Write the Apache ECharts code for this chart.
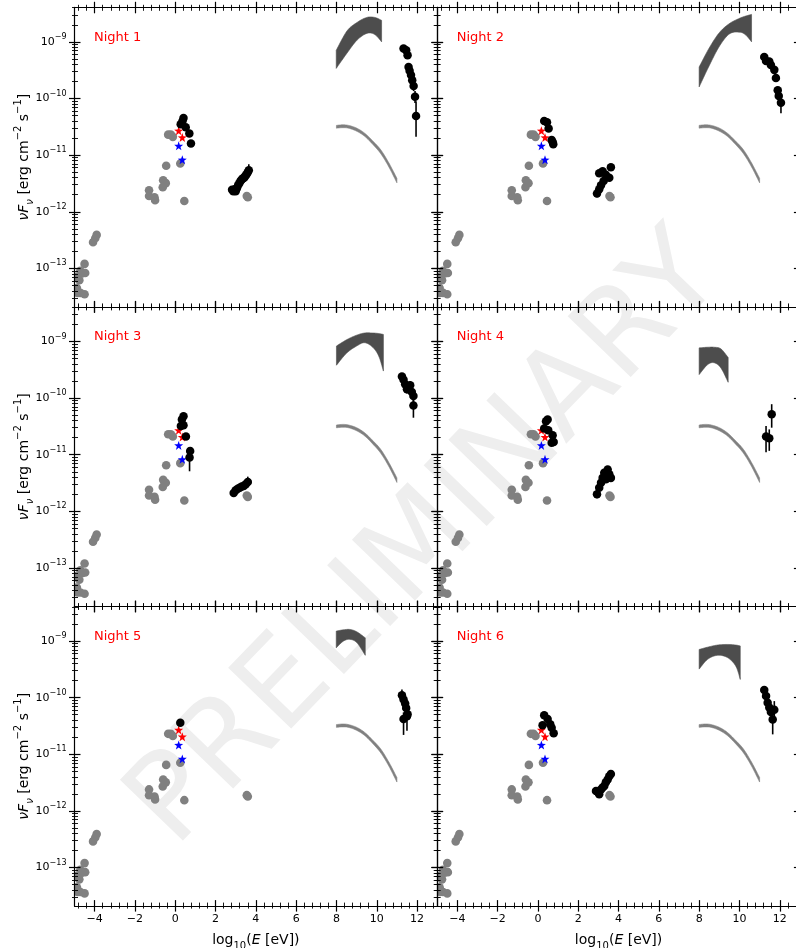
<!DOCTYPE html>
<html><head><meta charset="utf-8">
<script src="https://cdn.jsdelivr.net/npm/echarts@6/dist/echarts.min.js"></script>
<style>html,body{margin:0;padding:0;background:#fff}#c{width:796px;height:948px}</style>
</head><body><div id="c"></div>
<script>
// ---------------- data (x = log10(E/eV), flux in erg cm^-2 s^-1) ----------------
const xMajor = [-4, -2, 0, 2, 4, 6, 8, 10, 12];
const yMajor = [-13, -12, -11, -10, -9];          // exponents of the decade labels
const nightNames = ['Night 1', 'Night 2', 'Night 3', 'Night 4', 'Night 5', 'Night 6'];

// archival (grey) points, identical in every panel
const grayX = [-4.95,-4.88,-4.85,-4.71,-4.5,-4.95,-4.76,-4.71,-4.47,-4.63,-4.5,-4.08,-3.9,-3.97,-1.3,-1.3,-1.03,-1.0,-0.6,-0.47,-0.62,-0.45,-0.35,-0.22,-0.12,0.25,0.45,3.55,3.6];
const grayF = [4.2e-14,4.5e-14,3.7e-14,3.7e-14,3.5e-14,7.1e-14,6.2e-14,9.1e-14,8.3e-14,8.1e-14,1.2e-13,2.9e-13,3.9e-13,3.4e-13,2.4e-12,1.9e-12,1.8e-12,1.6e-12,3.6e-12,3.2e-12,2.7e-12,6.5e-12,2.3e-11,2.3e-11,2.1e-11,7.1e-12,1.55e-12,1.9e-12,1.8e-12];
// stars
const redX = [0.17, 0.35];  const redF = [2.7e-11, 2.05e-11];
const blueX = [0.17, 0.35]; const blueF = [1.46e-11, 8.3e-12];
// grey model band (same in every panel)
const modelX  = [8.0, 8.3, 8.6, 9.0, 9.4, 9.8, 10.2, 10.6, 11.0];
const modelLo = [2.99e-11,3.05e-11,2.99e-11,2.65e-11,2.15e-11,1.55e-11,1.06e-11,6.2e-12,3.24e-12];
const modelHi = [3.35e-11,3.43e-11,3.35e-11,3.0e-11,2.44e-11,1.78e-11,1.24e-11,7.3e-12,3.9e-12];

// Night 1
const n1X  = [0.41,0.36,0.27,0.52,0.70,0.78, 2.82,2.88,2.95,3.00,3.06,3.12,3.18,3.24,3.30,3.36,3.42,3.48,3.54,3.60,3.65, 11.33,11.46,11.53,11.58,11.63,11.70,11.76,11.83,11.90,11.95];
const n1F  = [4.5e-11,4.0e-11,3.5e-11,3.1e-11,2.4e-11,1.6e-11, 2.45e-12,2.3e-12,2.5e-12,2.3e-12,2.6e-12,2.95e-12,3.2e-12,3.5e-12,3.7e-12,3.9e-12,4.0e-12,4.3e-12,4.6e-12,5.0e-12,5.4e-12, 7.6e-10,7.1e-10,5.8e-10,3.6e-10,3.1e-10,2.6e-10,2.1e-10,1.66e-10,1.07e-10,4.9e-11];
const n1Lo = [null,null,null,null,null,null, 2.1e-12,2.0e-12,2.15e-12,2.0e-12,2.3e-12,2.6e-12,2.85e-12,3.1e-12,3.3e-12,3.5e-12,3.6e-12,3.8e-12,4.1e-12,4.4e-12,4.6e-12, 6.9e-10,6.4e-10,5.1e-10,3.1e-10,2.65e-10,2.2e-10,1.75e-10,1.35e-10,8.3e-11,2.1e-11];
const n1Hi = [null,null,null,null,null,null, 2.8e-12,2.6e-12,2.85e-12,2.6e-12,2.9e-12,3.3e-12,3.55e-12,3.9e-12,4.1e-12,4.3e-12,4.45e-12,4.8e-12,5.2e-12,5.7e-12,6.9e-12, 8.4e-10,7.9e-10,6.6e-10,4.2e-10,3.6e-10,3.05e-10,2.5e-10,2.0e-10,1.35e-10,8.9e-11];
const n1BandX  = [7.99,8.52,9.02,9.51,9.90,10.24];
const n1BandLo = [3.4e-10,6.3e-10,1.07e-9,1.41e-9,1.35e-9,1.0e-9];
const n1BandHi = [7.1e-10,1.55e-9,2.2e-9,2.7e-9,2.7e-9,2.4e-9];

// Night 2
const n2X  = [0.31,0.45,0.53,0.68,0.76,0.73, 2.93,3.04,3.13,3.26,3.04,3.21,3.37,3.54,3.62, 11.23,11.32,11.48,11.56,11.73,11.81,11.90,11.95,12.06];
const n2F  = [4.0e-11,3.8e-11,2.95e-11,1.84e-11,1.55e-11,1.7e-11, 2.1e-12,2.5e-12,2.95e-12,3.5e-12,4.8e-12,5.2e-12,4.5e-12,4.0e-12,6.1e-12, 5.4e-10,4.6e-10,4.5e-10,3.9e-10,3.2e-10,2.3e-10,1.4e-10,1.11e-10,8.4e-11];
const n2Lo = [null,null,null,null,null,null, 1.8e-12,2.2e-12,2.6e-12,3.1e-12,4.3e-12,4.6e-12,4.0e-12,3.5e-12,5.4e-12, 4.9e-10,4.2e-10,4.0e-10,3.5e-10,2.8e-10,2.0e-10,1.2e-10,9.2e-11,5.5e-11];
const n2Hi = [null,null,null,null,null,null, 2.4e-12,2.8e-12,3.3e-12,3.9e-12,5.3e-12,5.8e-12,5.0e-12,4.5e-12,6.9e-12, 5.9e-10,5.0e-10,5.0e-10,4.3e-10,3.6e-10,2.6e-10,1.6e-10,1.3e-10,1.12e-10];
const n2BandX  = [8.0,8.5,9.0,9.5,10.0,10.3,10.6];
const n2BandLo = [1.6e-10,3.8e-10,8.3e-10,1.38e-9,1.48e-9,1.33e-9,1.0e-9];
const n2BandHi = [3.6e-10,7.8e-10,1.45e-9,2.1e-9,2.6e-9,2.85e-9,3.05e-9];

// Night 3
const n3X  = [0.41,0.33,0.41,0.28,0.53,0.74,0.71, 2.90,3.00,3.10,3.20,3.30,3.40,3.50,3.60, 11.25,11.33,11.41,11.50,11.66,11.74,11.82,11.82];
const n3F  = [4.8e-11,4.2e-11,3.3e-11,3.2e-11,2.1e-11,1.16e-11,8.9e-12, 2.1e-12,2.35e-12,2.5e-12,2.6e-12,2.75e-12,2.8e-12,3.0e-12,3.3e-12, 2.4e-10,2.1e-10,1.75e-10,1.43e-10,1.68e-10,1.28e-10,1.09e-10,7.4e-11];
const n3Lo = [null,null,null,null,null,null,5.1e-12, 1.85e-12,2.1e-12,2.25e-12,2.35e-12,2.5e-12,2.55e-12,2.7e-12,2.9e-12, 2.15e-10,1.85e-10,1.5e-10,1.2e-10,1.4e-10,1.0e-10,8.5e-11,4.5e-11];
const n3Hi = [null,null,null,null,null,null,1.12e-11, 2.35e-12,2.6e-12,2.75e-12,2.85e-12,3.0e-12,3.05e-12,3.3e-12,4.1e-12, 2.65e-10,2.35e-10,2.0e-10,1.65e-10,2.0e-10,1.55e-10,1.35e-10,9.5e-11];
const n3BandX  = [8.0,8.5,9.0,9.4,9.8,10.1,10.33];
const n3BandLo = [3.8e-10,6.2e-10,8.3e-10,9.5e-10,7.9e-10,5.5e-10,3.0e-10];
const n3BandHi = [8.3e-10,1.07e-9,1.29e-9,1.41e-9,1.41e-9,1.38e-9,1.33e-9];

// Night 4
const n4X  = [0.40,0.48,0.31,0.51,0.73,0.78,0.68, 2.93,3.04,3.13,3.21,3.29,3.46,3.54,3.62,3.37, 11.60,11.32,11.48];
const n4F  = [3.9e-11,4.2e-11,2.9e-11,2.7e-11,2.2e-11,1.67e-11,1.63e-11, 2.0e-12,2.6e-12,3.2e-12,3.9e-12,4.8e-12,5.5e-12,4.5e-12,3.9e-12,3.7e-12, 5.2e-11,2.1e-11,1.95e-11];
const n4Lo = [null,null,null,null,null,null,null, 1.7e-12,2.3e-12,2.8e-12,3.4e-12,4.2e-12,4.9e-12,4.0e-12,3.4e-12,3.2e-12, 3.0e-11,1.1e-11,1.17e-11];
const n4Hi = [null,null,null,null,null,null,null, 2.3e-12,2.9e-12,3.6e-12,4.4e-12,5.4e-12,6.3e-12,5.0e-12,4.5e-12,4.2e-12, 7.8e-11,3.2e-11,2.8e-11];
const n4BandX  = [8.0,8.42,8.75,9.08,9.44];
const n4BandLo = [2.6e-10,3.9e-10,4.2e-10,3.4e-10,1.9e-10];
const n4BandHi = [7.7e-10,7.9e-10,7.9e-10,7.4e-10,5.2e-10];

// Night 5
const n5X  = [0.25, 11.25,11.33,11.41,11.46,11.53,11.33,11.50];
const n5F  = [3.6e-11, 1.1e-10,9.3e-11,7.9e-11,6.6e-11,5.1e-11,4.2e-11,4.7e-11];
const n5Lo = [null, 9.5e-11,8.0e-11,6.7e-11,5.5e-11,4.2e-11,2.2e-11,2.6e-11];
const n5Hi = [null, 1.4e-10,1.08e-10,9.2e-11,7.8e-11,6.1e-11,5.5e-11,6.0e-11];
const n5BandX  = [7.99,8.35,8.68,9.02,9.43];
const n5BandLo = [7.6e-10,1.0e-9,1.07e-9,9.3e-10,5.6e-10];
const n5BandHi = [1.5e-9,1.58e-9,1.6e-9,1.45e-9,1.14e-9];

// Night 6
const n6X  = [0.31,0.48,0.23,0.61,0.68,0.78, 2.88,2.99,3.13,3.21,3.29,3.37,3.46,3.54,3.62,3.04, 11.23,11.32,11.40,11.48,11.56,11.73,11.65];
const n6F  = [4.9e-11,4.2e-11,3.25e-11,3.4e-11,2.95e-11,2.35e-11, 2.25e-12,2.15e-12,2.4e-12,2.6e-12,2.75e-12,3.2e-12,3.6e-12,4.1e-12,4.5e-12,1.97e-12, 1.36e-10,1.07e-10,8.1e-11,6.7e-11,5.6e-11,6.1e-11,4.1e-11];
const n6Lo = [null,null,null,null,null,null, 1.95e-12,1.85e-12,2.1e-12,2.3e-12,2.45e-12,2.85e-12,3.2e-12,3.7e-12,4.0e-12,1.7e-12, 1.2e-10,9.4e-11,7.0e-11,5.8e-11,4.8e-11,4.6e-11,2.25e-11];
const n6Hi = [null,null,null,null,null,null, 2.55e-12,2.45e-12,2.7e-12,2.9e-12,3.05e-12,3.6e-12,4.0e-12,4.6e-12,5.0e-12,2.25e-12, 1.55e-10,1.22e-10,9.3e-11,7.7e-11,6.5e-11,8.7e-11,5.5e-11];
const n6BandX  = [8.0,8.42,8.91,9.41,9.82,10.04];
const n6BandLo = [3.2e-10,4.75e-10,5.6e-10,5.1e-10,3.6e-10,2.1e-10];
const n6BandHi = [7.1e-10,7.8e-10,8.5e-10,8.7e-10,8.5e-10,8.2e-10];

// ---------------- layout / style ----------------
const FONT = 'DejaVu Sans';
const X_MIN = -5, X_MAX = 13;
const LOG_MIN = -13.68, LOG_MAX = -8.39;
const GRID_LEFT = [74.5, 437.2];
const GRID_TOP = [7.3, 306.9, 606.5];
const GRID_W = 362.7, GRID_H = 299.6;

const nights = [
  {x:n1X,f:n1F,lo:n1Lo,hi:n1Hi,bx:n1BandX,blo:n1BandLo,bhi:n1BandHi},
  {x:n2X,f:n2F,lo:n2Lo,hi:n2Hi,bx:n2BandX,blo:n2BandLo,bhi:n2BandHi},
  {x:n3X,f:n3F,lo:n3Lo,hi:n3Hi,bx:n3BandX,blo:n3BandLo,bhi:n3BandHi},
  {x:n4X,f:n4F,lo:n4Lo,hi:n4Hi,bx:n4BandX,blo:n4BandLo,bhi:n4BandHi},
  {x:n5X,f:n5F,lo:n5Lo,hi:n5Hi,bx:n5BandX,blo:n5BandLo,bhi:n5BandHi},
  {x:n6X,f:n6F,lo:n6Lo,hi:n6Hi,bx:n6BandX,blo:n6BandLo,bhi:n6BandHi}
];

const L = v => Math.log10(v);

// tick positions (axis decoration)
const xMinor = [];
for (let k = -12; k <= 32; k++) { const v = +(k * 0.4).toFixed(2); if (Math.abs(v / 2 - Math.round(v / 2)) > 1e-6) xMinor.push(v); }
const yMinor = [];
for (let n = -14; n <= -9; n++) for (let k = 2; k <= 9; k++) { const v = n + Math.log10(k); if (v > LOG_MIN && v < LOG_MAX) yMinor.push(v); }

const STAR = 'path://M0,-10L2.35,-3.24L9.51,-3.09L3.8,1.24L5.88,8.09L0,4L-5.88,8.09L-3.8,1.24L-9.51,-3.09L-2.35,-3.24Z';

function catmull(pts, n) {
  if (pts.length < 3) return pts.slice();
  const out = [];
  for (let i = 0; i < pts.length - 1; i++) {
    const p0 = pts[Math.max(i - 1, 0)], p1 = pts[i], p2 = pts[i + 1], p3 = pts[Math.min(i + 2, pts.length - 1)];
    for (let t = 0; t < n; t++) {
      const s = t / n, s2 = s * s, s3 = s2 * s;
      const f = (a, b, c, d) => 0.5 * (2 * b + (-a + c) * s + (2 * a - 5 * b + 4 * c - d) * s2 + (-a + 3 * b - 3 * c + d) * s3);
      out.push([f(p0[0], p1[0], p2[0], p3[0]), f(p0[1], p1[1], p2[1], p3[1])]);
    }
  }
  out.push(pts[pts.length - 1]);
  return out;
}

function bandSeries(xs, lo, hi, color, xi, yi, z) {
  const rows = xs.map((x, i) => [x, L(lo[i]), L(hi[i])]);
  return {
    type: 'custom', xAxisIndex: xi, yAxisIndex: yi, z: z, silent: true, animation: false,
    data: rows, encode: { x: 0, y: [1, 2] },
    renderItem: (params, api) => {
      if (params.dataIndex !== 0) return null;
      const top = rows.map(r => api.coord([r[0], r[2]]));
      const bot = rows.map(r => api.coord([r[0], r[1]]));
      const poly = catmull(top, 12).concat(catmull(bot, 12).reverse());
      return { type: 'polygon', shape: { points: poly }, style: { fill: color, stroke: color, lineWidth: 0.6 } };
    }
  };
}

function errSeries(xs, lo, hi, xi, yi) {
  const rows = [];
  xs.forEach((x, i) => { if (lo[i] != null && hi[i] != null) rows.push([x, L(lo[i]), L(hi[i])]); });
  return {
    type: 'custom', xAxisIndex: xi, yAxisIndex: yi, z: 4, silent: true, animation: false,
    data: rows, encode: { x: 0, y: [1, 2] },
    renderItem: (params, api) => {
      const a = api.coord([api.value(0), api.value(1)]);
      const b = api.coord([api.value(0), api.value(2)]);
      return { type: 'line', shape: { x1: a[0], y1: a[1], x2: b[0], y2: b[1] }, style: { stroke: '#000', lineWidth: 1.6 } };
    }
  };
}

// circles drawn through a clipped custom series (partially hidden at the frame, like the original)
function clippedDots(xs, fs, r, color, xi, yi, z) {
  return {
    type: 'custom', xAxisIndex: xi, yAxisIndex: yi, z: z, silent: true, animation: false, clip: true,
    data: xs.map((x, i) => [x, L(fs[i])]), encode: { x: 0, y: 1 },
    renderItem: (params, api) => {
      const c = api.coord([api.value(0), api.value(1)]);
      return { type: 'circle', shape: { cx: c[0], cy: c[1], r: r }, style: { fill: color } };
    }
  };
}

function scatter(xs, fs, sym, size, color, xi, yi, z) {
  return {
    type: 'scatter', xAxisIndex: xi, yAxisIndex: yi, z: z, silent: true, animation: false,
    symbol: sym, symbolSize: size, itemStyle: { color: color, opacity: 1 },
    data: xs.map((x, i) => [x, L(fs[i])])
  };
}

const xName = 'log{sub|10}({it|E} [eV])';
const yName = '{it|\u03bdF}{sub|\u03bd} [erg cm{sup|\u22122} s{sup|\u22121}]';
const nameStyle = {
  fontFamily: FONT, fontSize: 14, color: '#000', lineHeight: 22,
  rich: {
    it: { fontFamily: FONT, fontSize: 14, fontStyle: 'italic', lineHeight: 22, color: '#000' },
    sub: { fontFamily: FONT, fontSize: 10, fontStyle: 'italic', lineHeight: 11, verticalAlign: 'bottom', color: '#000' },
    sup: { fontFamily: FONT, fontSize: 10, lineHeight: 11, verticalAlign: 'top', color: '#000' }
  }
};
const xNameStyle = JSON.parse(JSON.stringify(nameStyle));
xNameStyle.rich.sub.fontStyle = 'normal';

function axisCfg(dim, p, pos, o) {
  const isX = dim === 'x';
  const cfg = {
    type: 'value', gridIndex: p, position: pos,
    min: isX ? X_MIN : LOG_MIN, max: isX ? X_MAX : LOG_MAX,
    axisLine: { show: !!o.line, onZero: false, lineStyle: { color: '#000', width: 1.2 } },
    axisTick: { show: true, inside: o.inside, length: o.len, customValues: o.vals, lineStyle: { color: '#000', width: o.w } },
    axisLabel: { show: false },
    splitLine: { show: false }, minorTick: { show: false }, minorSplitLine: { show: false },
    axisPointer: { show: false }, silent: true, z: 3
  };
  if (o.label) {
    if (isX) {
      cfg.axisLabel = {
        show: true, customValues: xMajor, margin: 8, color: '#000', fontFamily: FONT, fontSize: 11,
        formatter: v => String(v).replace('-', '\u2212')
      };
    } else {
      cfg.axisLabel = {
        show: true, customValues: yMajor, margin: 8, color: '#000',
        formatter: v => '{b|10}{s|\u2212' + Math.round(-v) + '}',
        rich: {
          b: { fontFamily: FONT, fontSize: 11, lineHeight: 18, color: '#000' },
          s: { fontFamily: FONT, fontSize: 8, lineHeight: 10, verticalAlign: 'top', color: '#000' }
        }
      };
    }
  }
  if (o.name) {
    cfg.name = isX ? xName : yName;
    cfg.nameLocation = 'middle';
    cfg.nameGap = isX ? 23 : 39;
    cfg.nameRotate = isX ? 0 : 90;
    cfg.nameMoveOverlap = false;
    cfg.nameTextStyle = isX ? xNameStyle : nameStyle;
  }
  return cfg;
}

const grids = [], xAxes = [], yAxes = [], series = [], graphics = [];

graphics.push({
  type: 'text', x: 428, y: 542, rotation: 46 * Math.PI / 180, z: -10, silent: true,
  style: { text: 'PRELIMINARY', fill: '#eeeeee', fontSize: 120, fontFamily: FONT, align: 'center', verticalAlign: 'middle' }
});

for (let p = 0; p < 6; p++) {
  const row = Math.floor(p / 2), col = p % 2;
  grids.push({ left: GRID_LEFT[col], top: GRID_TOP[row], width: GRID_W, height: GRID_H, containLabel: false, outerBoundsMode: 'none', show: false });
  const bottomRow = row === 2, leftCol = col === 0;
  let mx, my;
  ['bottom', 'top'].forEach(pos => {
    const main = pos === 'bottom';
    if (main) mx = xAxes.length;
    xAxes.push(axisCfg('x', p, pos, { line: true, inside: false, len: 5.5, vals: xMajor, w: 1.2, label: main && bottomRow, name: main && bottomRow }));
    xAxes.push(axisCfg('x', p, pos, { inside: true, len: 6, vals: xMajor, w: 1.2 }));
    xAxes.push(axisCfg('x', p, pos, { inside: false, len: 2.5, vals: xMinor, w: 0.9 }));
    xAxes.push(axisCfg('x', p, pos, { inside: true, len: 3.5, vals: xMinor, w: 0.9 }));
  });
  ['left', 'right'].forEach(pos => {
    const main = pos === 'left';
    if (main) my = yAxes.length;
    yAxes.push(axisCfg('y', p, pos, { line: true, inside: false, len: 5.5, vals: yMajor, w: 1.2, label: main && leftCol, name: main && leftCol }));
    yAxes.push(axisCfg('y', p, pos, { inside: true, len: 6, vals: yMajor, w: 1.2 }));
    yAxes.push(axisCfg('y', p, pos, { inside: false, len: 2.5, vals: yMinor, w: 0.9 }));
    yAxes.push(axisCfg('y', p, pos, { inside: true, len: 3.5, vals: yMinor, w: 0.9 }));
  });

  const n = nights[p];
  series.push(bandSeries(modelX, modelLo, modelHi, '#808080', mx, my, 1));
  series.push(bandSeries(n.bx, n.blo, n.bhi, '#4d4d4d', mx, my, 1));
  series.push(clippedDots(grayX, grayF, 4.3, '#808080', mx, my, 2));
  series.push(scatter(redX, redF, STAR, 9, '#ff0000', mx, my, 3));
  series.push(scatter(blueX, blueF, STAR, 9, '#0000ff', mx, my, 3));
  series.push(errSeries(n.x, n.lo, n.hi, mx, my));
  series.push(scatter(n.x, n.f, 'circle', 8.5, '#000000', mx, my, 5));

  graphics.push({
    type: 'text', x: GRID_LEFT[col] + 19.5, y: GRID_TOP[row] + 30, z: 20, silent: true,
    style: { text: nightNames[p], fill: '#ff0000', fontSize: 13, fontFamily: FONT, align: 'left', verticalAlign: 'middle' }
  });
}

const chart = echarts.init(document.getElementById('c'), null, { renderer: 'canvas', width: 796, height: 948 });
chart.setOption({
  backgroundColor: '#ffffff',
  animation: false,
  textStyle: { fontFamily: FONT },
  grid: grids,
  xAxis: xAxes,
  yAxis: yAxes,
  series: series,
  graphic: graphics
});
</script></body></html>
